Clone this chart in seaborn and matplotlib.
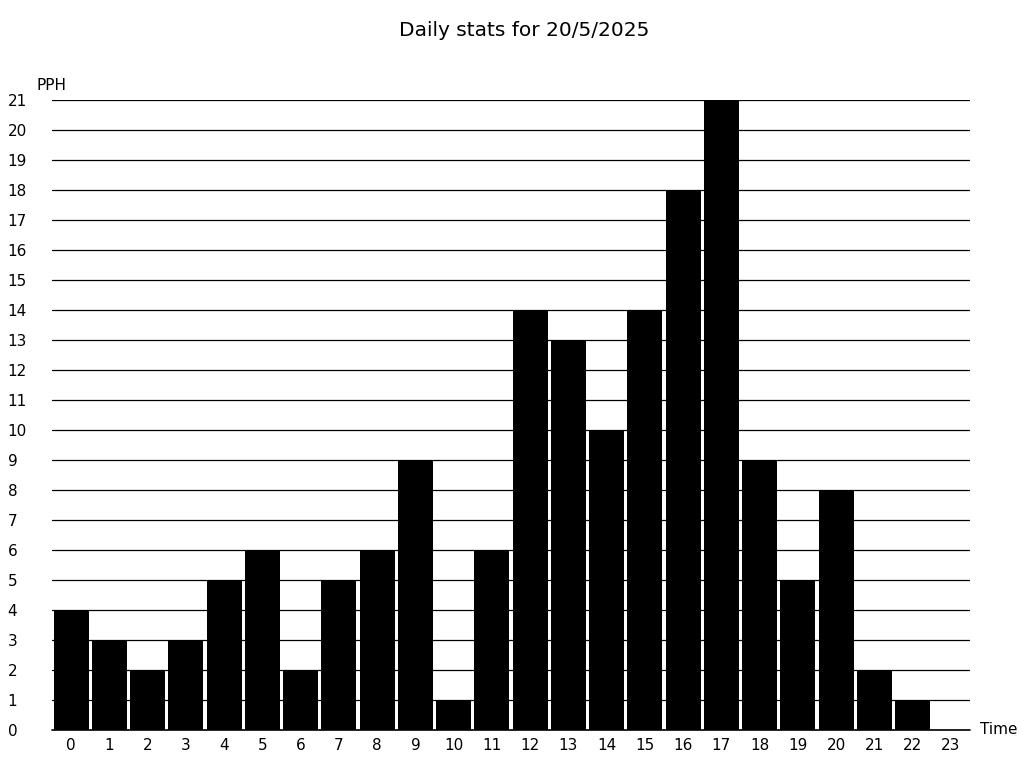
import numpy as np
import pandas as pd
import matplotlib
matplotlib.use("Agg")
import matplotlib.pyplot as plt
import seaborn as sns

hours = list(range(24))
pph = [4, 3, 2, 3, 5, 6, 2, 5, 6, 9, 1, 6, 14, 13, 10, 14, 18, 21, 9, 5, 8, 2, 1, 0]
title = "Daily stats for 20/5/2025"

df = pd.DataFrame({"hour": hours, "pph": pph})

sns.set_theme(style="white")
plt.rcParams["font.family"] = ["DejaVu Sans"]
plt.rcParams["text.color"] = "black"

fig = plt.figure(figsize=(10.24, 7.68), dpi=100)
ax = fig.add_axes([52 / 1024, 1 - 730 / 768, 918 / 1024, 630 / 768])

sns.barplot(data=df, x="hour", y="pph", color="black", width=0.92,
            linewidth=0, saturation=1, ax=ax, zorder=3)

ax.set_xlim(-0.5, 23.5)
ax.set_ylim(0, 21)
ax.set_yticks(range(0, 22))
ax.set_xticks(range(24))
ax.set_xticklabels([str(h) for h in hours])
ax.yaxis.grid(True, color="black", linewidth=0.9, zorder=0)
ax.set_axisbelow(True)
# baseline at zero, drawn past the clip edge
ax.axhline(0, color="black", linewidth=1.2, clip_on=False, zorder=4)
for s in ax.spines.values():
    s.set_visible(False)

ax.tick_params(axis="both", length=0, labelsize=11, colors="black")
ax.tick_params(axis="y", pad=32)
ax.tick_params(axis="x", pad=6)
for lbl in ax.get_yticklabels():
    lbl.set_horizontalalignment("left")

ax.set_xlabel("")
ax.set_ylabel("")

fig.text(524 / 1024, 1 - 30 / 768, title, ha="center", va="center",
         fontsize=14.5, color="black")
fig.text(37 / 1024, 1 - 85 / 768, "PPH", ha="left", va="center",
         fontsize=11, color="black")
fig.text(980 / 1024, 1 - 730 / 768, "Time", ha="left", va="center",
         fontsize=11, color="black")

fig.savefig("out.png", dpi=100)
